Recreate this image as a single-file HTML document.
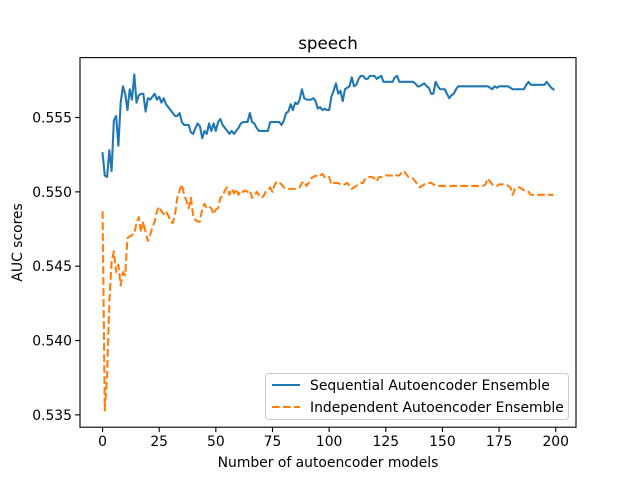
<!DOCTYPE html>
<html><head><meta charset="utf-8"><style>
html,body{margin:0;padding:0;background:#fff;}
svg{display:block;font-family:"DejaVu Sans","Liberation Sans",sans-serif;}
</style></head><body>
<svg id="chart" width="640" height="480" viewBox="0 0 640 480">
<rect x="0" y="0" width="640" height="480" fill="#fff"/>
<text x="328" y="49" font-size="16.7" text-anchor="middle" fill="#000">speech</text>
<g id="plot"></g>
</svg>
<script>
const xTicks = [0, 25, 50, 75, 100, 125, 150, 175, 200];
const yTicks = [0.535, 0.540, 0.545, 0.550, 0.555];
const yTickLabels = ["0.535", "0.540", "0.545", "0.550", "0.555"];
const seriesNames = ["Sequential Autoencoder Ensemble", "Independent Autoencoder Ensemble"];
const sequential = [
0.5526,0.5511,0.5510,0.5528,0.5514,0.5548,0.5551,0.5531,0.5560,0.5571,
0.5566,0.5555,0.5569,0.5562,0.5579,0.5560,0.5565,0.5566,0.5566,0.5554,
0.5563,0.5562,0.5564,0.5566,0.5562,0.5564,0.5560,0.5563,0.5559,0.5557,
0.5555,0.5553,0.5551,0.5551,0.5553,0.5547,0.5545,0.5545,0.5545,0.5540,
0.5539,0.5543,0.5546,0.5544,0.5536,0.5541,0.5539,0.5546,0.5541,0.5546,
0.5541,0.5547,0.5549,0.5545,0.5543,0.5541,0.5539,0.5541,0.5539,0.5541,
0.5543,0.5546,0.5547,0.5547,0.5547,0.5553,0.5547,0.5546,0.5543,0.5541,
0.5541,0.5541,0.5541,0.5541,0.5547,0.5547,0.5547,0.5547,0.5547,0.5545,
0.5548,0.5553,0.5554,0.5559,0.5555,0.5560,0.5559,0.5562,0.5569,0.5563,
0.5562,0.5562,0.5562,0.5563,0.5561,0.5556,0.5557,0.5555,0.5556,0.5555,
0.5555,0.5564,0.5568,0.5573,0.5566,0.5568,0.5561,0.5569,0.5570,0.5571,
0.5577,0.5571,0.5572,0.5576,0.5578,0.5578,0.5576,0.5576,0.5578,0.5578,
0.5578,0.5576,0.5577,0.5578,0.5574,0.5574,0.5574,0.5574,0.5574,0.5577,
0.5578,0.5574,0.5574,0.5574,0.5574,0.5574,0.5574,0.5574,0.5573,0.5571,
0.5571,0.5572,0.5573,0.5571,0.5570,0.5566,0.5566,0.5574,0.5571,0.5569,
0.5569,0.5569,0.5566,0.5563,0.5565,0.5566,0.5569,0.5571,0.5571,0.5571,
0.5571,0.5571,0.5571,0.5571,0.5571,0.5571,0.5571,0.5571,0.5571,0.5571,
0.5571,0.5570,0.5569,0.5571,0.5570,0.5571,0.5571,0.5571,0.5571,0.5571,
0.5570,0.5569,0.5569,0.5569,0.5569,0.5569,0.5569,0.5572,0.5574,0.5572,
0.5572,0.5572,0.5572,0.5572,0.5572,0.5572,0.5574,0.5572,0.5570,0.5569];
const independent = [
0.5487,0.5353,0.5376,0.5426,0.5453,0.5460,0.5446,0.5451,0.5437,0.5446,
0.5444,0.5469,0.5470,0.5471,0.5472,0.5479,0.5483,0.5473,0.5480,0.5473,
0.5467,0.5471,0.5476,0.5480,0.5487,0.5490,0.5487,0.5485,0.5487,0.5484,
0.5480,0.5479,0.5485,0.5496,0.5501,0.5505,0.5498,0.5494,0.5489,0.5496,
0.5484,0.5481,0.5480,0.5480,0.5489,0.5492,0.5489,0.5490,0.5489,0.5485,
0.5488,0.5489,0.5496,0.5497,0.5501,0.5503,0.5498,0.5502,0.5499,0.5502,
0.5498,0.5501,0.5500,0.5501,0.5500,0.5501,0.5496,0.5497,0.5500,0.5498,
0.5496,0.5497,0.5500,0.5501,0.5503,0.5500,0.5505,0.5507,0.5506,0.5505,
0.5503,0.5502,0.5502,0.5502,0.5502,0.5502,0.5503,0.5503,0.5506,0.5507,
0.5504,0.5506,0.5509,0.5510,0.5511,0.5510,0.5511,0.5512,0.5510,0.5511,
0.5510,0.5505,0.5506,0.5506,0.5506,0.5505,0.5505,0.5505,0.5506,0.5504,
0.5502,0.5503,0.5504,0.5505,0.5506,0.5506,0.5509,0.5510,0.5510,0.5510,
0.5509,0.5507,0.5510,0.5510,0.5510,0.5511,0.5511,0.5511,0.5511,0.5512,
0.5511,0.5511,0.5513,0.5514,0.5512,0.5510,0.5510,0.5509,0.5507,0.5505,
0.5503,0.5504,0.5505,0.5506,0.5506,0.5506,0.5505,0.5504,0.5504,0.5504,
0.5504,0.5504,0.5504,0.5504,0.5504,0.5504,0.5504,0.5504,0.5504,0.5504,
0.5504,0.5504,0.5504,0.5504,0.5504,0.5504,0.5504,0.5504,0.5504,0.5505,
0.5509,0.5507,0.5505,0.5504,0.5504,0.5505,0.5505,0.5505,0.5505,0.5504,
0.5503,0.5498,0.5502,0.5503,0.5503,0.5502,0.5501,0.5500,0.5500,0.5498,
0.5498,0.5498,0.5498,0.5498,0.5498,0.5498,0.5498,0.5498,0.5498,0.5498];

const NS = "http://www.w3.org/2000/svg";
const L = 80, R = 576, T = 57.6, B = 427.2;
const n = Math.max(sequential.length, independent.length);
const xMin0 = 0, xMax0 = n - 1;
const xPad = (xMax0 - xMin0) * 0.05;
const all = sequential.concat(independent);
const yMin0 = Math.min(...all), yMax0 = Math.max(...all);
const yPad = (yMax0 - yMin0) * 0.05;
const xs = v => L + (v - (xMin0 - xPad)) / ((xMax0 + xPad) - (xMin0 - xPad)) * (R - L);
const ys = v => B - (v - (yMin0 - yPad)) / ((yMax0 + yPad) - (yMin0 - yPad)) * (B - T);
const plot = document.getElementById('plot');
function mk(tag, attrs, parent) {
  const e = document.createElementNS(NS, tag);
  for (const k in attrs) e.setAttribute(k, attrs[k]);
  (parent || plot).appendChild(e);
  return e;
}
// series lines
function series(data, color, dash, name) {
  const d = data.map((v, i) => (i ? 'L' : 'M') + xs(i).toFixed(2) + ',' + ys(v).toFixed(2)).join(' ');
  const p = mk('path', {d: d, fill: 'none', stroke: color, 'stroke-width': 2.08, 'stroke-linejoin': 'round', 'stroke-linecap': dash ? 'butt' : 'square'});
  if (dash) p.setAttribute('stroke-dasharray', dash);
  
  
}
series(sequential, '#1f77b4', null, 'sequential-series-line');
series(independent, '#ff7f0e', '7.7,3.3', 'independent-series-line');
// frame
const frame = mk('rect', {x: L, y: T, width: R - L, height: B - T, fill: 'none', stroke: '#000', 'stroke-width': 1.1});


// x ticks
xTicks.forEach(t => {
  const x = xs(t);
  const tk = mk('line', {x1: x, x2: x, y1: B, y2: B + 4.9, stroke: '#000', 'stroke-width': 1.1});
  
  
  const lb = mk('text', {x: x, y: B + 19, 'font-size': 13.9, 'text-anchor': 'middle', fill: '#000'});
  lb.textContent = String(t);
  
  
});
// y ticks
yTicks.forEach((t, i) => {
  const y = ys(t);
  const tk = mk('line', {x1: L - 4.9, x2: L, y1: y, y2: y, stroke: '#000', 'stroke-width': 1.1});
  
  
  const lb = mk('text', {x: L - 8, y: y + 5, 'font-size': 13.9, 'text-anchor': 'end', fill: '#000'});
  lb.textContent = yTickLabels[i];
  
  
});
const xt = mk('text', {x: (L + R) / 2, y: 467, 'font-size': 13.9, 'text-anchor': 'middle', fill: '#000'});
xt.textContent = 'Number of autoencoder models';


const yt = mk('text', {x: 0, y: 0, 'font-size': 13.9, 'text-anchor': 'middle', fill: '#000', transform: 'translate(22,' + ((T + B) / 2) + ') rotate(-90)'});
yt.textContent = 'AUC scores';


// legend
const lg = mk('g', {});


const lbx = mk('rect', {x: 265.5, y: 373.5, width: 303, height: 46, rx: 3, fill: '#fff', 'fill-opacity': 0.8, stroke: '#ccc', 'stroke-width': 1}, lg);


const legColors = ['#1f77b4', '#ff7f0e'];
const legDash = [null, '7.7,3.3'];
seriesNames.forEach((nm, i) => {
  const y = 385 + i * 22;
  const ln = mk('line', {x1: 272, x2: 300, y1: y, y2: y, stroke: legColors[i], 'stroke-width': 2.08}, lg);
  if (legDash[i]) ln.setAttribute('stroke-dasharray', legDash[i]);
  
  
  const tx = mk('text', {x: 310, y: y + 5, 'font-size': 13.9, fill: '#000'}, lg);
  tx.textContent = nm;
  
  
});
</script>
</body></html>
